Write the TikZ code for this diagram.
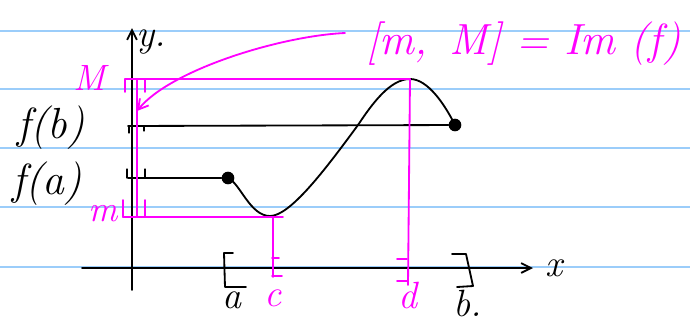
\documentclass[tikz,border=0pt]{standalone}
\usetikzlibrary{positioning,arrows.meta}
\definecolor{penpink}{RGB}{255,0,255}
\definecolor{ruleblue}{RGB}{155,205,250}

\begin{document}
\begin{tikzpicture}[x=0.025cm, y=-0.025cm,
  % Line Styles
  ruling/.style={ruleblue, line width=1.1pt},
  ink/.style={black, line width=1.3pt, line cap=round, line join=round},
  pinkink/.style={penpink, line width=1.3pt, line cap=round, line join=round},
  axisarrow/.style={ink, -{Straight Barb[length=7pt,width=7pt]}},
  notearrow/.style={pinkink, -{Straight Barb[length=7pt,width=8pt]}},
  % Text Styles
  hand/.style={inner sep=0pt, font=\fontsize{27}{29}\selectfont\itshape},
  pinkhand/.style={hand, text=penpink},
  enddot/.style={circle, fill=black, inner sep=0pt, minimum size=9pt},
]
\useasboundingbox (0,0) rectangle (690,325);

% Paper rulings
\foreach \yy in {31,89,148,207,267}
  \draw[ruling] (0,\yy) -- (690,\yy);

% Axes
\coordinate (ybot) at (132,290);
\coordinate (ytip) at (132,28);
\coordinate (xleft) at (82,268);
\coordinate (xtip) at (533,268);
\draw[axisarrow] (ybot) -- (ytip);
\draw[axisarrow] (xleft) -- (xtip);
\node[hand] (ylabel) at (151,42) {y.};
\node[hand] (xlabel) at (554,268) {x};

% Graph of f
\node[enddot] (fa) at (228,178) {};
\node[enddot] (fb) at (455,125) {};
\coordinate (minpt) at (270,216);
\coordinate (midpt) at (358,125);
\coordinate (maxpt) at (410,79);
\draw[ink] (fa.center) .. controls (240,183) and (250,216) .. (minpt)
  .. controls (290,216) and (325,170) .. (midpt)
  .. controls (372,104) and (390,79) .. (maxpt)
  .. controls (428,79) and (445,105) .. (fb.center);

% Levels f(a), f(b)
\coordinate (fbaxis) at (128,126);
\coordinate (faaxis) at (128,178);
\draw[ink] (fbaxis) -- (fb);
\draw[ink] (faaxis) -- (fa);
\draw[ink, line width=0.8pt] (129,126) -- (129,133) (144,126) -- (144,131);
\draw[ink, line width=0.8pt] (127,178) -- (127,169) (137,178) -- (137,169) (145,178) -- (145,169);
\node[hand, font=\fontsize{31}{33}\selectfont\itshape] (fblabel) at (51,128) {f(b)};
\node[hand, font=\fontsize{31}{33}\selectfont\itshape] (falabel) at (47,184) {f(a)};

% Interval [a,b]
\draw[ink] (233,253) -- (224,253) -- (225,287) -- (246,287);
\draw[ink] (452,254) -- (466,254) -- (473,286) -- (457,287);
\node[hand] (alabel) at (232,300) {a};
\node[hand] (blabel) at (468,304) {b.};

% Max M and min m
\coordinate (Maxis) at (125,79);
\coordinate (maxis) at (123,217);
\coordinate (mright) at (283,217);
\draw[pinkink] (Maxis) -- (maxpt);
\draw[pinkink] (125,92) -- (Maxis) (145,79) -- (145,92);
\draw[pinkink] (137,79) -- (137,217);
\draw[pinkink] (maxis) -- (mright);
\draw[pinkink] (123,200) -- (maxis) (145,200) -- (145,217);
\node[pinkhand, font=\fontsize{26}{28}\selectfont\itshape] (Mlabel) at (90,78) {M};
\node[pinkhand, font=\fontsize{26}{28}\selectfont\itshape] (mlabel) at (103,214) {m};

% Points c and d
\coordinate (cfoot) at (273,277);
\coordinate (dfoot) at (408,285);
\draw[pinkink] (273,217) -- (cfoot);
\draw[pinkink] (279,258) -- (272,258) (272,276) -- (282,276);
\draw[pinkink] (maxpt) -- (dfoot);
\draw[pinkink] (397,259) -- (407,259) (407,281) -- (397,281);
\node[pinkhand] (clabel) at (273,298) {c};
\node[pinkhand] (dlabel) at (408,296) {d};

% Image of f
\node[pinkhand, font=\fontsize{31}{33}\selectfont\itshape, anchor=west] (imtitle) at (366,44) {[m,\, M] = Im (f)};
\coordinate (notestart) at (345,33);
\coordinate (notetip) at (137,111);
\draw[notearrow] (notestart) .. controls (280,36) and (170,70) .. (notetip);

\end{tikzpicture}
\end{document}
